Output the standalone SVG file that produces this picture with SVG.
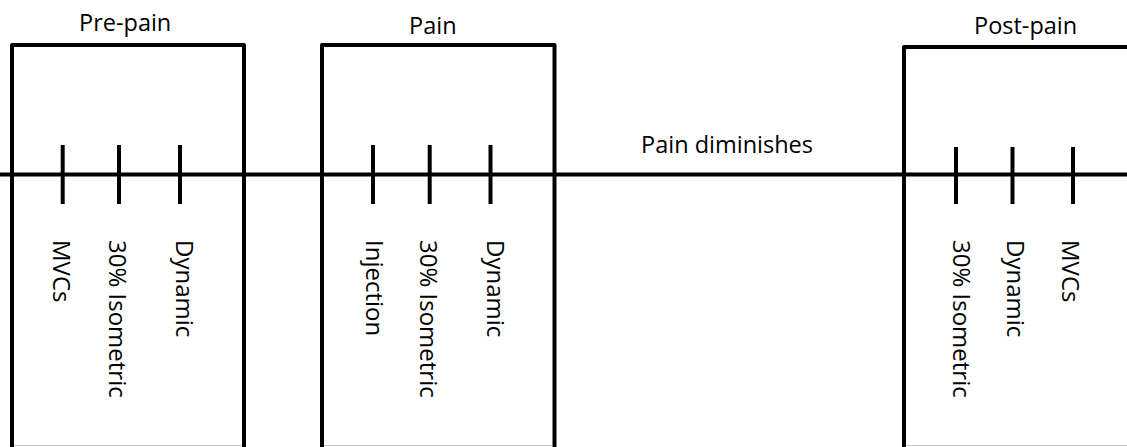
<svg xmlns="http://www.w3.org/2000/svg" width="1127" height="447" viewBox="0 0 1127 447">
  <style>
    .frame { fill: none; stroke: #000; stroke-width: 4; stroke-linejoin: round; }
    .floor { stroke: #c4c4c4; stroke-width: 1; }
    .axis { stroke: #000; stroke-width: 4; }
    .tick { stroke: #000; stroke-width: 4; }
    .title { font-family: "Open Sans", "Noto Sans", sans-serif; font-size: 23.5px; fill: #000; }
    .step { font-family: "Open Sans", "Noto Sans", sans-serif; font-size: 24px; fill: #000; }
  </style>

  <rect width="1127" height="447" fill="#fff"/>

  <!-- timeline running across all phases -->
  <g id="connectors">
    <line class="axis" x1="0" y1="174.5" x2="1127" y2="174.5"/>
    <text class="title" x="641" y="153">Pain diminishes</text>
  </g>

  <!-- phase 1 -->
  <g id="pre-pain">
    <path class="frame" d="M12 449 V45 H244 V449"/>
    <line class="floor" x1="14" y1="445.5" x2="242" y2="445.5"/>
    <text class="title" x="79" y="31">Pre-pain</text>
    <line class="tick" x1="62.7" y1="145" x2="62.7" y2="204"/>
    <line class="tick" x1="119" y1="145" x2="119" y2="204"/>
    <line class="tick" x1="180" y1="145" x2="180" y2="204"/>
    <text class="step" transform="translate(53 240) rotate(90)">MVCs</text>
    <text class="step" transform="translate(108.5 240) rotate(90)">30% Isometric</text>
    <text class="step" transform="translate(176 240) rotate(90)">Dynamic</text>
  </g>

  <!-- phase 2 -->
  <g id="pain">
    <path class="frame" d="M322 449 V45 H554.5 V449"/>
    <line class="floor" x1="324" y1="445.5" x2="552.5" y2="445.5"/>
    <text class="title" x="409" y="34">Pain</text>
    <line class="tick" x1="373" y1="145" x2="373" y2="204"/>
    <line class="tick" x1="429.7" y1="145" x2="429.7" y2="204"/>
    <line class="tick" x1="490.5" y1="145" x2="490.5" y2="204"/>
    <text class="step" transform="translate(366 240) rotate(90)">Injection</text>
    <text class="step" transform="translate(420 240) rotate(90)">30% Isometric</text>
    <text class="step" transform="translate(487 240) rotate(90)">Dynamic</text>
  </g>

  <!-- phase 3 -->
  <g id="post-pain">
    <path class="frame" d="M904 449 V47 H1131"/>
    <line class="floor" x1="906" y1="445.5" x2="1127" y2="445.5"/>
    <text class="title" x="974" y="34">Post-pain</text>
    <line class="tick" x1="956" y1="147" x2="956" y2="204"/>
    <line class="tick" x1="1012.5" y1="147" x2="1012.5" y2="204"/>
    <line class="tick" x1="1073" y1="147" x2="1073" y2="204"/>
    <text class="step" transform="translate(953 240) rotate(90)">30% Isometric</text>
    <text class="step" transform="translate(1007 240) rotate(90)">Dynamic</text>
    <text class="step" transform="translate(1062 240) rotate(90)">MVCs</text>
  </g>
</svg>
